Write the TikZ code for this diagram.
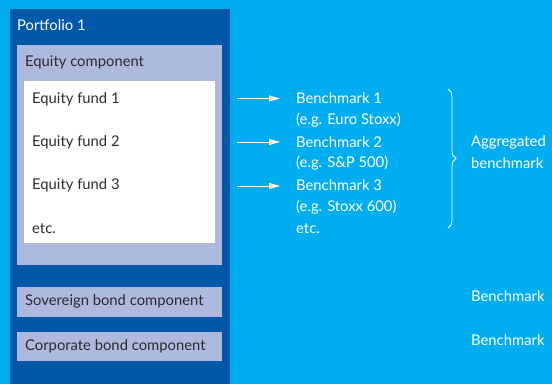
\documentclass[tikz,border=0pt]{standalone}
\usepackage{fontspec}
\setmainfont{Lato}
\usetikzlibrary{arrows.meta,decorations.pathreplacing}
\definecolor{bgblue}{RGB}{0,174,239}
\definecolor{darkblue}{RGB}{0,88,168}
\definecolor{lav}{RGB}{173,185,223}
\definecolor{txtgray}{RGB}{45,45,45}
\begin{document}
\begin{tikzpicture}[x=1pt,y=-1pt,
  box/.style={rectangle,inner sep=0pt,anchor=north west},
  lbl/.style={anchor=west,inner sep=0pt,font=\fontsize{14.8}{17}\selectfont},
  wlbl/.style={lbl,text=white},
  glbl/.style={lbl,text=txtgray},
  arr/.style={draw=white,line width=0.8pt,-{Triangle[length=11pt,width=6pt]}}]
\useasboundingbox[fill=bgblue] (0,0) rectangle (552,384);
\node[box,fill=darkblue,minimum width=220pt,minimum height=375pt] (port) at (10,9) {};
\node[box,fill=lav,minimum width=205pt,minimum height=220pt] (eq) at (17,45) {};
\node[box,fill=white,minimum width=191pt,minimum height=162pt] (funds) at (24,81) {};
\node[box,fill=lav,minimum width=205pt,minimum height=30pt] (sov) at (17,287) {};
\node[box,fill=lav,minimum width=205pt,minimum height=29pt] (corp) at (17,332) {};
\node[wlbl] (portt) at (17,25) {Portfolio 1};
\node[glbl] (eqt) at (25,62) {Equity component};
\node[glbl] (f1) at (32,99) {Equity fund 1};
\node[glbl] (f2) at (32,142) {Equity fund 2};
\node[glbl] (f3) at (32,185) {Equity fund 3};
\node[glbl] (etc) at (32,229) {etc.};
\node[glbl] (sovt) at (25,301) {Sovereign bond component};
\node[glbl] (corpt) at (25,346) {Corporate bond component};
\node[wlbl] (b1) at (296,98) {Benchmark 1};
\node[wlbl] (e1) at (296,120) {(e.g. Euro Stoxx)};
\node[wlbl] (b2) at (296,142) {Benchmark 2};
\node[wlbl] (e2) at (296,163) {(e.g. S\&P 500)};
\node[wlbl] (b3) at (296,185) {Benchmark 3};
\node[wlbl] (e3) at (296,207) {(e.g. Stoxx 600)};
\node[wlbl] (betc) at (296,229) {etc.};
\node[wlbl] (agg1) at (471,142) {Aggregated};
\node[wlbl] (agg2) at (471,163) {benchmark};
\node[wlbl] (bs) at (471,296) {Benchmark};
\node[wlbl] (bc) at (471,340) {Benchmark};
\coordinate (a1) at (237,98.5);
\coordinate (a2) at (237,142);
\coordinate (a3) at (237,186);
\draw[arr] (a1) -- ([xshift=-16pt]b1.west |- a1);
\draw[arr] (a2) -- ([xshift=-16pt]b2.west |- a2);
\draw[arr] (a3) -- ([xshift=-16pt]b3.west |- a3);
\coordinate (bt) at (448,89);
\coordinate (bb) at (448,228);
\draw[white,line width=0.8pt,decorate,decoration={brace,amplitude=8pt}] (bt) -- (bb);
\end{tikzpicture}
\end{document}
